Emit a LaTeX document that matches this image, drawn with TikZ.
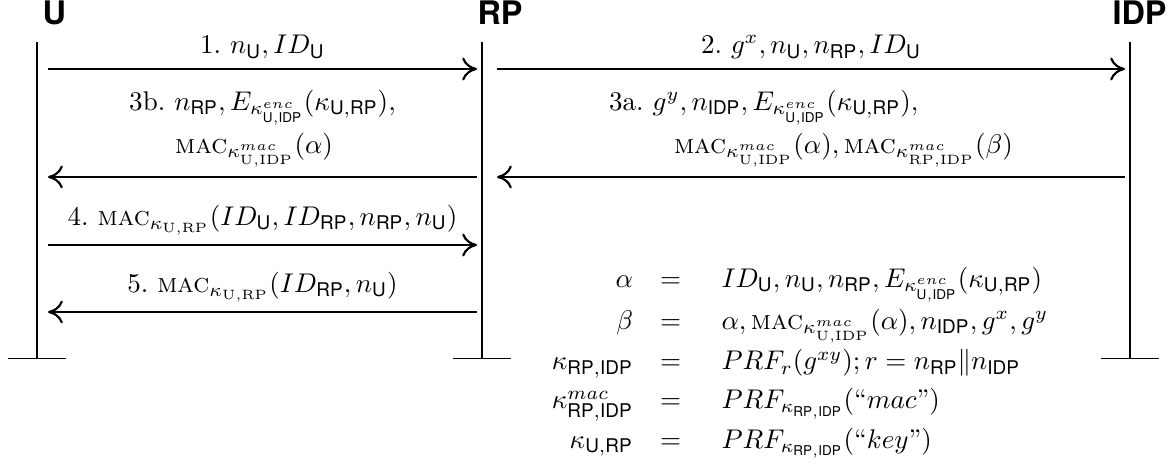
\documentclass[tikz,border=0pt]{standalone}
\usepackage{fontspec}
\setsansfont{TeX Gyre Heros}
\usepackage{tikz}
\usetikzlibrary{arrows.meta}
% party names in subscripts
\newcommand{\pU}{\mathsf{U}}
\newcommand{\pRP}{\mathsf{RP}}
\newcommand{\pIDP}{\mathsf{IDP}}
\newcommand{\kMacUI}{\kappa^{mac}_{\mathrm{U,IDP}}}
\newcommand{\kEncUI}{\kappa^{enc}_{\mathsf{U,IDP}}}
\newcommand{\macop}{\textsc{mac}}
\tikzset{
  actor-label/.style={anchor=base west,inner sep=0pt,font=\large\sffamily\bfseries},
  life-line/.style={line width=0.5pt,-{Bar[width=21.5pt]}},
  msg-arrow/.style={line width=0.8pt,-{Computer Modern Rightarrow[length=5.5pt,width=8.5pt]}},
  msg-label/.style={above,align=left},
}

\begin{document}
\begin{tikzpicture}[x=0.37pt,y=-0.37pt]
  \useasboundingbox (0,0) rectangle (1174,467);
  % parties
  \node[actor-label] (lblU)   at (42,25)   {U};
  \node[actor-label] (lblRP)  at (477,25)  {RP};
  \node[actor-label] (lblIDP) at (1112,25) {IDP};
  \coordinate (u-top) at (37,42);    \coordinate (u-bot) at (37,359);
  \coordinate (rp-top) at (482,42);  \coordinate (rp-bot) at (482,359);
  \coordinate (idp-top) at (1130,42); \coordinate (idp-bot) at (1130,359);
  \draw[life-line] (u-top) -- (u-bot);
  \draw[life-line] (rp-top) -- (rp-bot);
  \draw[life-line] (idp-top) -- (idp-bot);
  % message end points
  \foreach \row/\ypos in {m1/69,m3/177,m4/245,m5/312}{
    \coordinate (u-\row) at (48,\ypos);
    \coordinate (rp-\row) at (477,\ypos);
  }
  \foreach \row/\ypos in {m2/69,m3/177}{
    \coordinate (rpr-\row) at (497,\ypos);
    \coordinate (idp-\row) at (1125,\ypos);
  }
  % messages
  \draw[msg-arrow] (u-m1) -- node[msg-label] (t1) {1.~$n_{\pU}, ID_{\pU}$} (rp-m1);
  \draw[msg-arrow] (rpr-m2) -- node[msg-label] (t2) {2.~$g^x, n_{\pU}, n_{\pRP}, ID_{\pU}$} (idp-m2);
  \draw[msg-arrow] (idp-m3) -- node[msg-label] (t3a)
    {3a.~$g^y, n_{\pIDP}, E_{\kEncUI}(\kappa_{\mathsf{U,RP}}),$\\[2pt]
     \hspace*{24pt}$\macop_{\kMacUI}(\alpha), \macop_{\kappa^{mac}_{\mathrm{RP,IDP}}}(\beta)$} (rpr-m3);
  \draw[msg-arrow] (rp-m3) -- node[msg-label] (t3b)
    {3b.~$n_{\pRP}, E_{\kEncUI}(\kappa_{\mathsf{U,RP}}),$\\[2pt]
     \hspace*{17pt}$\macop_{\kMacUI}(\alpha)$} (u-m3);
  \draw[msg-arrow] (u-m4) -- node[msg-label] (t4)
    {4.~$\macop_{\kappa_{\mathrm{U,RP}}}(ID_{\pU}, ID_{\pRP}, n_{\pRP}, n_{\pU})$} (rp-m4);
  \draw[msg-arrow] (rp-m5) -- node[msg-label] (t5)
    {5.~$\macop_{\kappa_{\mathrm{U,RP}}}(ID_{\pRP}, n_{\pU})$} (u-m5);
  % key derivations
  \node (defs) at (800,360) {\renewcommand{\arraystretch}{1.2}%
    $\begin{array}{r@{\hspace{10pt}}c@{\hspace{15pt}}l}
      \alpha & = & ID_{\pU}, n_{\pU}, n_{\pRP}, E_{\kEncUI}(\kappa_{\mathsf{U,RP}})\\
      \beta & = & \alpha, \macop_{\kMacUI}(\alpha), n_{\pIDP}, g^x, g^y\\
      \kappa_{\mathsf{RP,IDP}} & = & PRF_r(g^{xy}); r = n_{\pRP}\|n_{\pIDP}\\
      \kappa^{mac}_{\mathsf{RP,IDP}} & = & PRF_{\kappa_{\mathsf{RP,IDP}}}(\textrm{``}mac\textrm{''})\\
      \kappa_{\mathsf{U,RP}} & = & PRF_{\kappa_{\mathsf{RP,IDP}}}(\textrm{``}key\textrm{''})
    \end{array}$};
\end{tikzpicture}
\end{document}
